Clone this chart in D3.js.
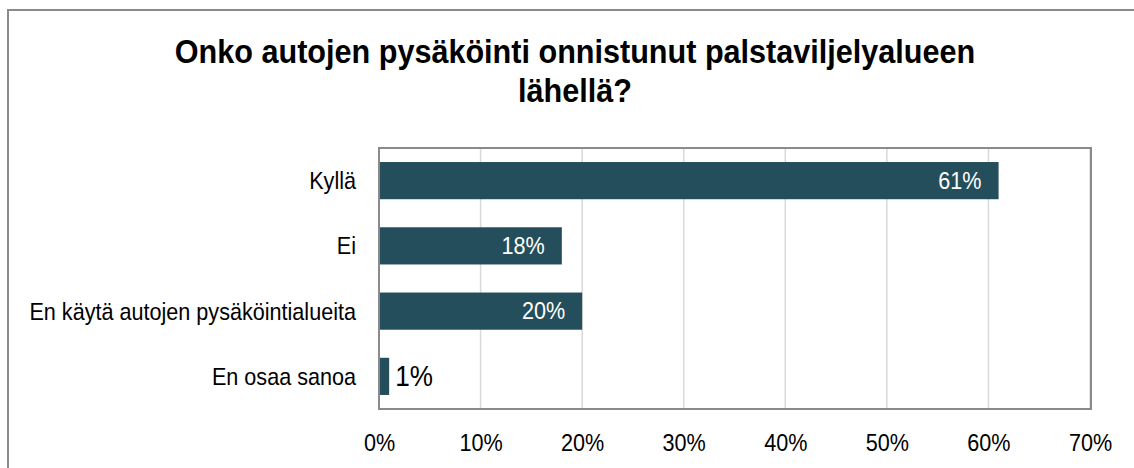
<!DOCTYPE html>
<html>
<head>
<meta charset="utf-8">
<script src="https://cdn.jsdelivr.net/npm/d3@7"></script>
<style>
  body { margin: 0; background: #fff; }
  svg { display: block; font-family: "Liberation Sans", Arial, sans-serif; }
</style>
</head>
<body>
<svg id="canvas" width="1134" height="468"></svg>
<script>
// chart data
let titleLines = ['Onko autojen pysäköinti onnistunut palstaviljelyalueen', 'lähellä?']
let categories = ['Kyllä', 'Ei', 'En käytä autojen pysäköintialueita', 'En osaa sanoa']
let values = [61, 18, 20, 1]
let tickValues = [0, 10, 20, 30, 40, 50, 60, 70]

let canvas = d3.select('#canvas')
let squeeze = 0.9   // the source image is slightly narrow

let plot = { left: 379, right: 1091, top: 148, bottom: 409 }
let barColor = '#244e5b'

// outer frame of the chart area (runs off the right and bottom edges)
canvas.append('rect')
    .attr('x', 8).attr('y', 10)
    .attr('width', 1140).attr('height', 480)
    .attr('fill', 'none')
    .attr('stroke', '#8a8a8a')
    .attr('stroke-width', 2)

// title
canvas.selectAll('.title')
    .data(titleLines)
    .enter()
    .append('text')
    .attr('class', 'title')
    .attr('transform', (d, i) => 'translate(575,' + (63 + i * 39) + ') scale(' + squeeze + ',1)')
    .attr('text-anchor', 'middle')
    .style('font-size', '34px')
    .style('font-weight', 'bold')
    .attr('fill', '#000')
    .text(d => d)

let xScale = d3.scaleLinear()
    .domain([0, 70])
    .range([plot.left, plot.right - 1])

let yScale = d3.scaleBand()
    .domain(categories)
    .range([plot.top, plot.bottom])
    .paddingInner(0.43)
    .paddingOuter(0.215)

// gridlines
canvas.append('g')
    .selectAll('line')
    .data(tickValues)
    .enter()
    .append('line')
    .attr('x1', d => xScale(d)).attr('x2', d => xScale(d))
    .attr('y1', plot.top).attr('y2', plot.bottom)
    .attr('stroke', '#d9d9d9')
    .attr('stroke-width', 1.5)

// bars
canvas.append('g')
    .selectAll('rect')
    .data(values)
    .enter()
    .append('rect')
    .attr('x', xScale(0))
    .attr('y', (d, i) => yScale(categories[i]))
    .attr('width', d => xScale(d) - xScale(0))
    .attr('height', yScale.bandwidth())
    .attr('fill', barColor)

// plot border
canvas.append('rect')
    .attr('x', plot.left).attr('y', plot.top)
    .attr('width', plot.right - plot.left)
    .attr('height', plot.bottom - plot.top)
    .attr('fill', 'none')
    .attr('stroke', '#8a8a8a')
    .attr('stroke-width', 2)

// value labels: inside end in white, small ones outside in black (a bit larger)
canvas.append('g')
    .selectAll('text')
    .data(values)
    .enter()
    .append('text')
    .attr('transform', (d, i) => {
        let y = yScale(categories[i]) + yScale.bandwidth() / 2 + (d >= 5 ? 8 : 10)
        let x = d >= 5 ? xScale(d) - 17 : xScale(d) + 6
        return 'translate(' + x + ',' + y + ') scale(' + squeeze + ',1)'
    })
    .attr('text-anchor', d => d >= 5 ? 'end' : 'start')
    .attr('fill', d => d >= 5 ? '#ffffff' : '#000000')
    .style('font-size', d => d >= 5 ? '24px' : '29px')
    .text(d => d + '%')

// category labels
let yAxis = d3.axisLeft(yScale).tickSize(0).tickPadding(0)
let yAxisG = canvas.append('g')
    .attr('transform', 'translate(' + (plot.left - 23) + ',0)')
    .call(yAxis)
yAxisG.select('.domain').remove()
yAxisG.selectAll('text')
    .attr('x', 0)
    .attr('dy', '0.35em')
    .attr('transform', 'scale(' + squeeze + ',1)')
    .attr('fill', '#000')
    .style('font-size', '24px')
    .style('font-family', '"Liberation Sans", Arial, sans-serif')

// x axis tick labels
let xAxis = d3.axisBottom(xScale)
    .tickValues(tickValues)
    .tickSize(0)
    .tickFormat(d => d + '%')
let xAxisG = canvas.append('g')
    .attr('transform', 'translate(0,' + plot.bottom + ')')
    .call(xAxis)
xAxisG.select('.domain').remove()
xAxisG.selectAll('text')
    .attr('y', 42)
    .attr('dy', 0)
    .attr('transform', 'scale(' + squeeze + ',1)')
    .attr('fill', '#000')
    .style('font-size', '24px')
    .style('font-family', '"Liberation Sans", Arial, sans-serif')
</script>
</body>
</html>
